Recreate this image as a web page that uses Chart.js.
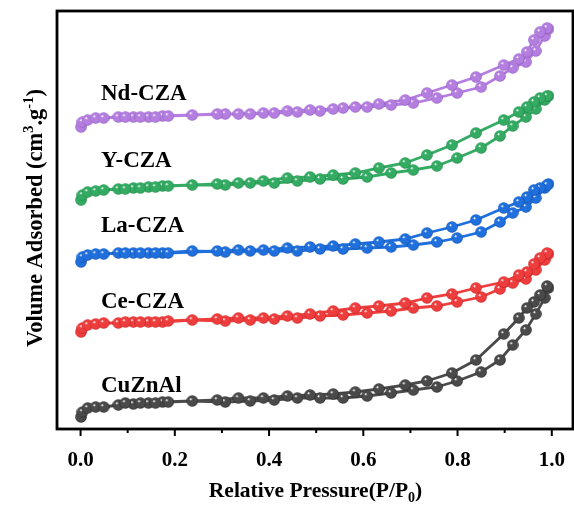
<!DOCTYPE html>
<html>
<head>
<meta charset="utf-8">
<script src="https://cdn.jsdelivr.net/npm/chart.js@4.4.0/dist/chart.umd.min.js"></script>
<style>
  html, body { margin: 0; padding: 0; background: #fff; overflow: hidden; }
  #wrap { width: 574px; height: 509px; }
</style>
</head>
<body>
<div id="wrap"><canvas id="bet"></canvas></div>
<script>
// relative pressure of each point, adsorption and desorption branch
var adsP = [0.001, 0.004, 0.015, 0.032, 0.049, 0.08, 0.112, 0.144, 0.174, 0.237, 0.307, 0.36, 0.411, 0.46,
  0.508, 0.557, 0.608, 0.659, 0.706, 0.756, 0.799, 0.85, 0.89, 0.917, 0.945, 0.966, 0.985, 0.993];
var desP = [0.99, 0.975, 0.962, 0.947, 0.93, 0.898, 0.839, 0.788, 0.735, 0.689, 0.633, 0.583, 0.536, 0.487,
  0.439, 0.388, 0.335, 0.29, 0.186, 0.159, 0.127, 0.095];

// volume adsorbed (curves offset, arbitrary units)
var cuAds = [12, 17, 21, 22, 22, 24, 25, 26, 27, 28, 27, 28, 29, 31, 31, 31, 33, 36, 39, 42, 48, 57, 69, 84, 99, 115, 131, 141];
var cuDes = [143, 134, 127, 121, 111, 95, 69, 56, 48, 44, 40, 37, 35, 34, 33, 31, 31, 29, 27, 26, 26, 26];
var ceAds = [97, 101, 104, 105, 106, 106, 107, 107, 107, 109, 108, 109, 110, 111, 113, 114, 116, 118, 121, 123, 127, 132, 140, 146, 150, 159, 169, 175];
var ceDes = [176, 171, 165, 157, 154, 147, 141, 135, 131, 126, 123, 121, 118, 115, 113, 111, 111, 110, 108, 107, 107, 107];
var laAds = [167, 172, 174, 175, 175, 176, 176, 176, 176, 178, 177, 178, 178, 178, 180, 180, 181, 182, 184, 187, 191, 197, 207, 216, 222, 231, 241, 245];
var laDes = [244, 241, 239, 232, 227, 221, 209, 202, 196, 190, 187, 185, 183, 182, 181, 179, 179, 178, 176, 176, 176, 176];
var yAds = [229, 234, 237, 238, 239, 240, 241, 242, 243, 244, 244, 246, 246, 248, 250, 250, 252, 256, 259, 263, 271, 281, 293, 303, 312, 320, 329, 333];
var yDes = [333, 331, 327, 322, 317, 309, 296, 284, 274, 266, 261, 256, 254, 252, 251, 248, 246, 245, 243, 242, 241, 240];
var ndAds = [302, 307, 309, 311, 311, 312, 312, 312, 313, 314, 315, 315, 316, 317, 318, 321, 322, 324, 326, 331, 336, 342, 353, 361, 367, 378, 393, 400];
var ndDes = [401, 397, 389, 377, 370, 364, 352, 344, 336, 329, 325, 322, 320, 319, 318, 316, 315, 315, 313, 312, 312, 312];

var sampleNames = ["CuZnAl", "Ce-CZA", "La-CZA", "Y-CZA", "Nd-CZA"];
var xTicks = [0.0, 0.2, 0.4, 0.6, 0.8, 1.0];

var serif = "'Times New Roman', 'Liberation Serif', serif";

// little shaded ball used as marker
function ball(color, dark) {
  var c = document.createElement("canvas");
  c.width = 12; c.height = 12;
  var g = c.getContext("2d");
  var grad = g.createRadialGradient(4.3, 4.0, 0.3, 6, 6, 6);
  grad.addColorStop(0, "#ffffff");
  grad.addColorStop(0.22, color);
  grad.addColorStop(0.8, color);
  grad.addColorStop(1, dark);
  g.fillStyle = grad;
  g.beginPath();
  g.arc(6, 6, 5.8, 0, Math.PI * 2);
  g.fill();
  return c;
}

function loop(ads, des) {
  var pts = [];
  adsP.forEach(function (p, i) { pts.push({ x: p, y: ads[i] }); });
  desP.forEach(function (p, i) { pts.push({ x: p, y: des[i] }); });
  return pts;
}

function series(name, ads, des, color, dark) {
  return {
    label: name,
    data: loop(ads, des),
    showLine: true,
    borderColor: color,
    borderWidth: 2.8,
    pointStyle: ball(color, dark),
    pointRadius: 6,
    pointHoverRadius: 6,
    fill: false
  };
}

// frame, ticks, texts
var decor = {
  id: "decor",
  afterDraw: function (chart) {
    var ctx = chart.ctx;
    var a = chart.chartArea;
    var xs = chart.scales.x;
    ctx.save();
    ctx.strokeStyle = "#000";
    ctx.lineWidth = 2.8;
    ctx.strokeRect(a.left, a.top, a.right - a.left, a.bottom - a.top);
    ctx.lineWidth = 2;
    for (var t = 0; t <= 10; t++) {
      var px = xs.getPixelForValue(t / 10);
      var len = t % 2 === 0 ? 7 : 4;
      ctx.beginPath();
      ctx.moveTo(px, a.bottom);
      ctx.lineTo(px, a.bottom + len);
      ctx.stroke();
    }

    ctx.fillStyle = "#000";
    ctx.textBaseline = "alphabetic";
    ctx.textAlign = "left";
    ctx.font = "bold 23px " + serif;
    var labelBase = [392, 308, 232, 167, 100];
    sampleNames.forEach(function (n, i) { ctx.fillText(n, 101, labelBase[i]); });

    // x title with subscript
    var big = "bold 21.5px " + serif, small = "bold 14px " + serif;
    ctx.font = big;
    var main = "Relative Pressure(P/P";
    var w1 = ctx.measureText(main).width;
    ctx.font = small;
    var w2 = ctx.measureText("0").width;
    ctx.font = big;
    var w3 = ctx.measureText(")").width;
    var x0 = 315.5 - (w1 + w2 + w3) / 2;
    ctx.fillText(main, x0, 497);
    ctx.font = small;
    ctx.fillText("0", x0 + w1, 502);
    ctx.font = big;
    ctx.fillText(")", x0 + w1 + w2, 497);

    // y title, rotated, with superscripts
    ctx.translate(42, 218);
    ctx.rotate(-Math.PI / 2);
    var parts = [["Volume Adsorbed (cm", 0], ["3", 1], [".g", 0], ["-1", 1], [")", 0]];
    var yBig = "bold 22.5px " + serif, ySmall = "bold 14.5px " + serif;
    var total = 0;
    parts.forEach(function (p) {
      ctx.font = p[1] ? ySmall : yBig;
      total += ctx.measureText(p[0]).width;
    });
    var cx = -total / 2;
    parts.forEach(function (p) {
      ctx.font = p[1] ? ySmall : yBig;
      ctx.fillText(p[0], cx, p[1] ? -9 : 0);
      cx += ctx.measureText(p[0]).width;
    });
    ctx.restore();
  }
};

var chart = new Chart(document.getElementById("bet"), {
  type: "scatter",
  data: {
    datasets: [
      series(sampleNames[0], cuAds, cuDes, "#4a4a4a", "#1e1e1e"),
      series(sampleNames[1], ceAds, ceDes, "#ee3d3d", "#b81d1d"),
      series(sampleNames[2], laAds, laDes, "#1f6fdc", "#0f47a0"),
      series(sampleNames[3], yAds, yDes, "#33ab63", "#1d7a40"),
      series(sampleNames[4], ndAds, ndDes, "#b47ee0", "#8553b3")
    ]
  },
  options: {
    responsive: true,
    maintainAspectRatio: false,
    animation: false,
    layout: { autoPadding: false, padding: { top: 11, right: 1, left: 0, bottom: 0 } },
    plugins: { legend: { display: false }, tooltip: { enabled: false } },
    scales: {
      x: {
        type: "linear",
        min: -0.05,
        max: 1.045,
        grid: { display: false },
        border: { display: false },
        afterBuildTicks: function (s) { s.ticks = xTicks.map(function (v) { return { value: v }; }); },
        afterFit: function (s) { s.height = 80; s.paddingLeft = 0; s.paddingRight = 0; },
        ticks: {
          padding: 11,
          color: "#000",
          maxRotation: 0,
          font: { family: serif, size: 21, weight: "bold" },
          callback: function (v) { return v.toFixed(1); }
        }
      },
      y: {
        min: 0,
        max: 418,
        grid: { display: false },
        border: { display: false },
        ticks: { display: false },
        afterFit: function (s) { s.width = 57; s.paddingTop = 0; s.paddingBottom = 0; }
      }
    }
  },
  plugins: [decor]
});
</script>
</body>
</html>
